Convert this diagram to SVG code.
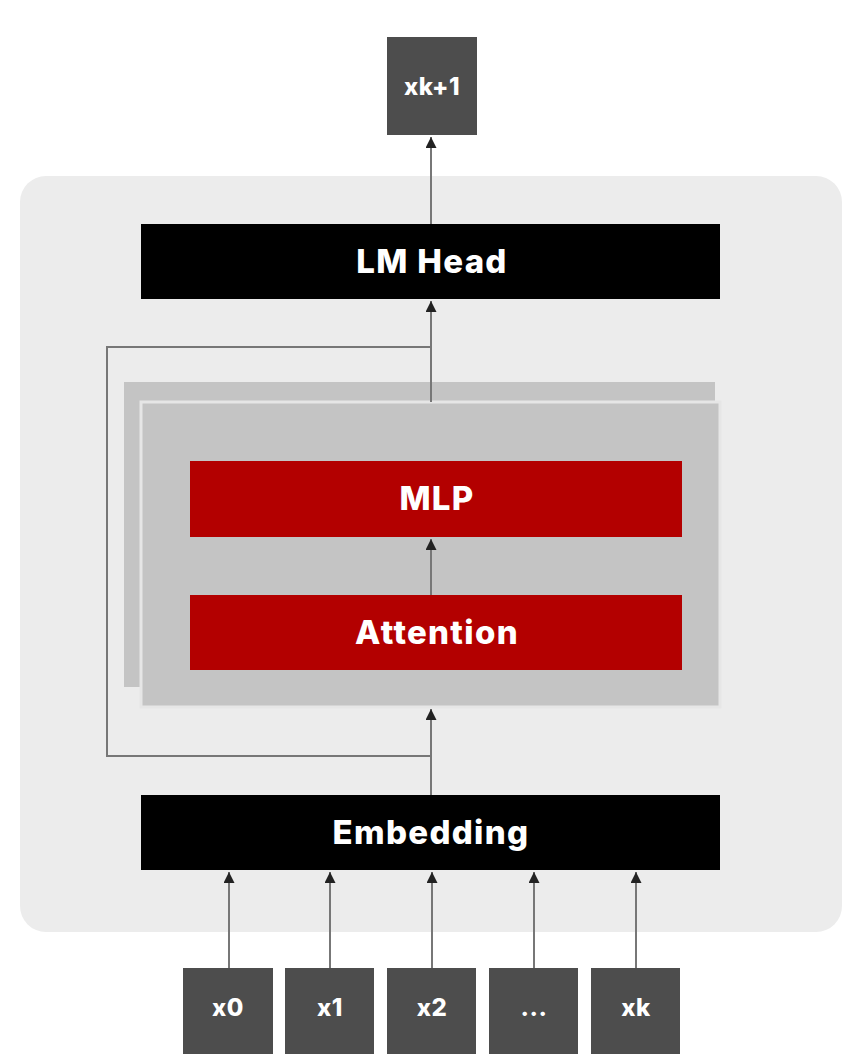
<svg xmlns="http://www.w3.org/2000/svg" width="850" height="1063" viewBox="0 0 850 1063">
<style>
.lbl{font-family:Inter,"Liberation Sans",sans-serif;font-weight:800;fill:#fff;text-anchor:middle;dominant-baseline:central}
.big{font-size:33px;letter-spacing:1.3px}
.small{font-size:24px;letter-spacing:0.5px}
.tok{fill:#4d4d4d}
.conn{stroke:#777;stroke-width:2;fill:none}
</style>
<defs>
<marker id="ah" viewBox="0 0 10 10" refX="10" refY="5" markerWidth="11" markerHeight="11" markerUnits="userSpaceOnUse" orient="auto">
<path d="M0,0 L10,5 L0,10 z" fill="#222"/>
</marker>
</defs>
<rect width="850" height="1063" fill="#fff"/>
<rect id="panel" x="20" y="176" width="822" height="756" rx="26" fill="#ececec"/>
<g id="layer-back"><rect x="124" y="382" width="591" height="305" fill="#c4c4c4"/></g>
<g id="layer-front"><rect x="141" y="402" width="579" height="305" fill="#c4c4c4" stroke="#e6e6e6" stroke-width="3"/></g>
<g id="connectors">
<path class="conn" d="M431,402 V347 H107 V756 H431"/>
<line class="conn" x1="431" y1="402" x2="431" y2="301" marker-end="url(#ah)"/>
<line class="conn" x1="431" y1="795" x2="431" y2="709" marker-end="url(#ah)"/>
<line class="conn" x1="431" y1="595" x2="431" y2="539" marker-end="url(#ah)"/>
<line class="conn" x1="431" y1="224" x2="431" y2="137" marker-end="url(#ah)"/>
<line class="conn" x1="229" y1="968" x2="229" y2="872" marker-end="url(#ah)"/>
<line class="conn" x1="330" y1="968" x2="330" y2="872" marker-end="url(#ah)"/>
<line class="conn" x1="432" y1="968" x2="432" y2="872" marker-end="url(#ah)"/>
<line class="conn" x1="534" y1="968" x2="534" y2="872" marker-end="url(#ah)"/>
<line class="conn" x1="636" y1="968" x2="636" y2="872" marker-end="url(#ah)"/>
</g>
<g id="out"><rect class="tok" x="387" y="37" width="90" height="98"/><text class="lbl small" x="432" y="86">xk+1</text></g>
<g id="lmhead"><rect x="141" y="224" width="579" height="75" fill="#000"/><text class="lbl big" x="432" y="261">LM Head</text></g>
<g id="mlp"><rect x="190" y="461" width="492" height="76" fill="#b30000"/><text class="lbl big" x="437" y="498">MLP</text></g>
<g id="attention"><rect x="190" y="595" width="492" height="75" fill="#b30000"/><text class="lbl big" x="437" y="632">Attention</text></g>
<g id="embedding"><rect x="141" y="795" width="579" height="75" fill="#000"/><text class="lbl big" x="431" y="832">Embedding</text></g>
<g id="x0"><rect class="tok" x="183" y="968" width="90" height="86"/><text class="lbl small" x="228" y="1007">x0</text></g>
<g id="x1"><rect class="tok" x="285" y="968" width="89" height="86"/><text class="lbl small" x="330" y="1007">x1</text></g>
<g id="x2"><rect class="tok" x="387" y="968" width="89" height="86"/><text class="lbl small" x="432" y="1007">x2</text></g>
<g id="xdots"><rect class="tok" x="489" y="968" width="89" height="86"/><text class="lbl small" x="534" y="1007">...</text></g>
<g id="xk"><rect class="tok" x="591" y="968" width="89" height="86"/><text class="lbl small" x="636" y="1007">xk</text></g>
</svg>
